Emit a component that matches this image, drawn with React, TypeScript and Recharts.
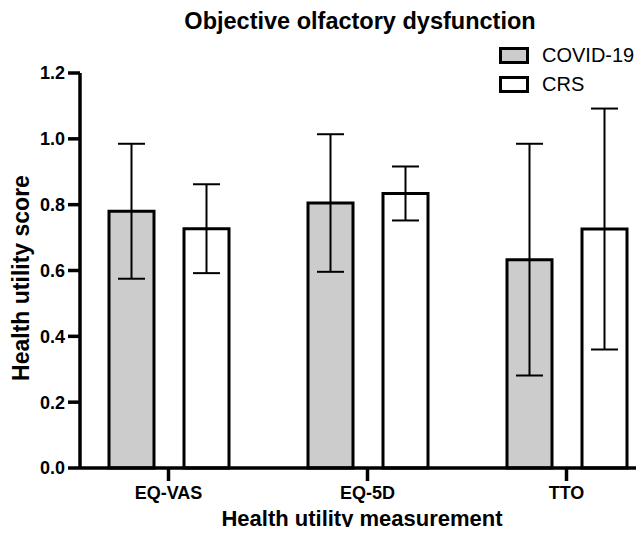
import { BarChart, Bar, XAxis, YAxis, ErrorBar, Legend, Label } from 'recharts';

const FONT = '"Liberation Sans", Arial, Helvetica, sans-serif';

const CATEGORIES = ['EQ-VAS', 'EQ-5D', 'TTO'];
const COVID_MEAN = [0.78, 0.805, 0.633];
const COVID_SD = [0.205, 0.209, 0.352];
const CRS_MEAN = [0.727, 0.834, 0.726];
const CRS_SD = [0.135, 0.082, 0.366];
const Y_TICKS = [0, 0.2, 0.4, 0.6, 0.8, 1.0, 1.2];

const data = CATEGORIES.map((name, i) => ({
  name,
  covid: COVID_MEAN[i],
  covidErr: COVID_SD[i],
  crs: CRS_MEAN[i],
  crsErr: CRS_SD[i],
}));

const axisStroke = { stroke: '#000', strokeWidth: 3.5 };
const tickStyle = { fill: '#000', fontSize: 18, fontWeight: 700, fontFamily: FONT };

// axis lines in the original are heavy, force it
const css = `
.olf-chart .recharts-cartesian-axis-line,
.olf-chart .recharts-cartesian-axis-tick-line { stroke: #000; stroke-width: 3.5px; }
`;

const renderLegend = ({ payload }: any) => (
  <div>
    {(payload || []).map((entry: any) => (
      <div key={entry.value} style={{ display: 'flex', alignItems: 'center', height: 29 }}>
        <span
          style={{
            display: 'inline-block',
            width: 30,
            height: 17,
            boxSizing: 'border-box',
            border: '3.5px solid #000',
            background: entry.payload?.fill ?? entry.color,
          }}
        />
        <span style={{ marginLeft: 13, fontSize: 20, color: '#000', fontFamily: FONT }}>{entry.value}</span>
      </div>
    ))}
  </div>
);

const App = () => (
  <div
    className="olf-chart"
    style={{ position: 'relative', width: 644, height: 535, margin: -8, fontFamily: FONT, background: '#fff' }}
  >
    <style>{css}</style>
    <div
      style={{
        position: 'absolute',
        top: 8,
        left: 100,
        width: 520,
        textAlign: 'center',
        fontWeight: 700,
        fontSize: 23.5,
        color: '#000',
        zIndex: 2,
      }}
    >
      Objective olfactory dysfunction
    </div>
    <BarChart
      width={644}
      height={535}
      data={data}
      margin={{ top: 73, right: 0, bottom: 0, left: 0 }}
      barSize={45}
      barGap={30}
    >
      <XAxis
        dataKey="name"
        height={67}
        padding={{ left: -11, right: -22 }}
        stroke="#000"
        strokeWidth={3.5}
        fontSize={18}
        axisLine={axisStroke}
        tickLine={axisStroke}
        tickSize={13}
        tickMargin={5}
        tick={tickStyle}
        interval={0}
      >
        <Label
          value="Health utility measurement"
          position="insideBottom"
          offset={9}
          style={{ fill: '#000', fontSize: 22, fontWeight: 700, fontFamily: FONT }}
        />
      </XAxis>
      <YAxis
        width={80}
        domain={[0, 1.2]}
        ticks={Y_TICKS}
        tickFormatter={(v: number) => v.toFixed(1)}
        stroke="#000"
        strokeWidth={3.5}
        fontSize={18}
        axisLine={axisStroke}
        tickLine={axisStroke}
        tickSize={12}
        tickMargin={3}
        tick={tickStyle}
        interval={0}
      >
        <Label
          content={() => (
            <text
              x={20.5}
              y={278}
              transform="rotate(-90 20.5 278)"
              textAnchor="middle"
              dominantBaseline="central"
              style={{ fill: '#000', fontSize: 23, fontWeight: 700, fontFamily: FONT }}
            >
              Health utility score
            </text>
          )}
        />
      </YAxis>
      <Legend
        layout="vertical"
        align="center"
        verticalAlign="middle"
        wrapperStyle={{ top: 41, left: 499, width: 145 }}
        content={renderLegend}
      />
      <Bar dataKey="covid" name="COVID-19" fill="#cccccc" stroke="#000" strokeWidth={3} isAnimationActive={false}>
        <ErrorBar dataKey="covidErr" direction="y" width={13.5} stroke="#000" strokeWidth={2} />
      </Bar>
      <Bar dataKey="crs" name="CRS" fill="#ffffff" stroke="#000" strokeWidth={3} isAnimationActive={false}>
        <ErrorBar dataKey="crsErr" direction="y" width={13.5} stroke="#000" strokeWidth={2} />
      </Bar>
    </BarChart>
  </div>
);

export default App;
